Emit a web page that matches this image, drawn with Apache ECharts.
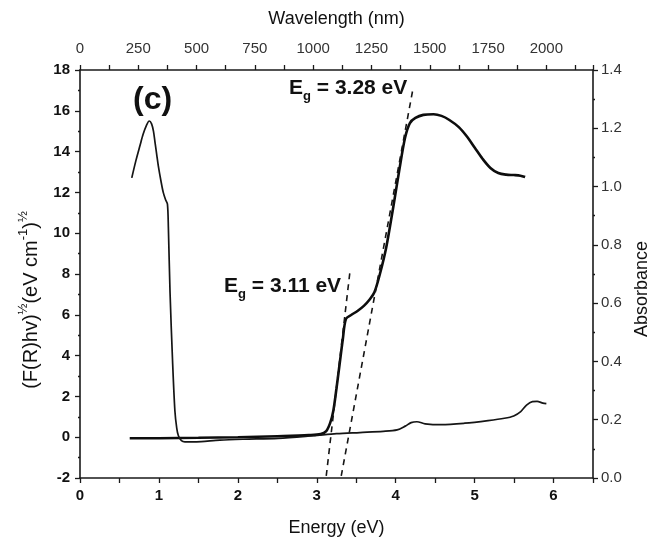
<!DOCTYPE html>
<html>
<head>
<meta charset="utf-8">
<script src="https://cdn.jsdelivr.net/npm/echarts@6/dist/echarts.min.js"></script>
<style>
  html, body { margin: 0; padding: 0; background: #fff; }
  #myChart { width: 659px; height: 548px; }
</style>
</head>
<body>
<div id="myChart"></div>
<script>
// Tauc 曲线: 能量 (eV) 与 (F(R)hv)^1/2
const taucEnergy = [0.63, 1.0, 1.5, 2.0, 2.5, 2.9, 3.05, 3.12, 3.17, 3.21, 3.25, 3.29, 3.33, 3.37,
  3.44, 3.52, 3.6, 3.67, 3.73, 3.8, 3.88, 3.97, 4.05, 4.12, 4.18, 4.25, 4.35, 4.48, 4.58,
  4.68, 4.8, 4.9, 5.0, 5.1, 5.2, 5.3, 5.4, 5.5, 5.58, 5.64];
const taucValue = [-0.05, -0.05, -0.03, 0.0, 0.05, 0.1, 0.15, 0.3, 0.7, 1.3, 2.4, 3.6, 4.8, 5.8,
  6.0, 6.2, 6.45, 6.75, 7.1, 8.0, 9.3, 11.3, 13.2, 14.7, 15.4, 15.65, 15.8, 15.83, 15.75,
  15.55, 15.2, 14.75, 14.2, 13.65, 13.2, 12.95, 12.87, 12.85, 12.82, 12.75];

// 吸收光谱: 波长 (nm) 与吸光度
const absWavelength = [222, 240, 257, 271, 285, 297, 307, 315, 322, 329, 336, 347, 357, 367, 375,
  379, 386, 397, 407, 415, 422, 435, 450, 480, 520, 600, 700, 850, 1000, 1100, 1200, 1300,
  1360, 1395, 1420, 1445, 1480, 1550, 1650, 1750, 1820, 1860, 1890, 1915, 1940, 1960, 1985, 2000];
const absValue = [1.03, 1.09, 1.14, 1.18, 1.21, 1.225, 1.215, 1.19, 1.15, 1.11, 1.07, 1.02, 0.98,
  0.955, 0.94, 0.86, 0.64, 0.4, 0.23, 0.17, 0.145, 0.128, 0.124, 0.124, 0.125, 0.13, 0.133,
  0.136, 0.145, 0.152, 0.156, 0.16, 0.165, 0.178, 0.19, 0.193, 0.186, 0.183, 0.188, 0.197,
  0.205, 0.213, 0.228, 0.25, 0.262, 0.263, 0.257, 0.255];

// 切线 (虚线), 两端点
const tangent311 = [[3.12, -1.9], [3.42, 8.1]];
const tangent328 = [[3.31, -1.9], [4.22, 17.1]];

const energyTicks = [0, 1, 2, 3, 4, 5, 6];
const wavelengthTicks = [0, 250, 500, 750, 1000, 1250, 1500, 1750, 2000];

const zip = (xs, ys) => xs.map((x, i) => [x, ys[i]]);

const font = 'Liberation Sans, Arial, sans-serif';
const axisColor = '#1a1a1a';
const labelFont = { color: '#111', fontSize: 15, fontFamily: font };
const nameFont = { color: '#111', fontSize: 18, fontFamily: font };

function baseAxis() {
  return {
    type: 'value',
    splitLine: { show: false },
    axisLine: { show: true, onZero: false, lineStyle: { color: axisColor, width: 1.6 } },
    axisTick: { show: true, inside: false, length: 5, lineStyle: { color: axisColor, width: 1.3 } },
    axisLabel: Object.assign({}, labelFont)
  };
}

let myChart = echarts.init(document.getElementById('myChart'), null, { renderer: 'canvas' });

myChart.setOption({
  animation: false,
  backgroundColor: '#fff',
  grid: { left: 80, right: 66, top: 70, bottom: 70 },
  xAxis: [
    Object.assign(baseAxis(), {
      position: 'bottom',
      min: 0, max: 6.5, interval: 0.5,
      name: 'Energy (eV)', nameLocation: 'middle', nameGap: 41, nameTextStyle: nameFont,
      axisLabel: Object.assign({}, labelFont, {
        margin: 10, fontWeight: 'bold',
        formatter: v => energyTicks.indexOf(v) >= 0 ? String(v) : ''
      })
    }),
    Object.assign(baseAxis(), {
      position: 'top',
      min: 0, max: 2200, interval: 125,
      name: 'Wavelength (nm)', nameLocation: 'middle', nameGap: 42, nameTextStyle: nameFont,
      axisLabel: Object.assign({}, labelFont, {
        margin: 14, color: '#333',
        formatter: v => wavelengthTicks.indexOf(v) >= 0 ? String(v) : ''
      })
    })
  ],
  yAxis: [
    Object.assign(baseAxis(), {
      position: 'left',
      min: -2, max: 18, interval: 2,
      minorTick: { show: true, splitNumber: 2, length: 2, lineStyle: { color: axisColor, width: 1.3 } },
      name: '{n|(F(R)hv)}{s|½}{n|(eV cm}{s|-1}{n|)}{s|½}',
      nameLocation: 'middle', nameGap: 35,
      nameTextStyle: {
        padding: [0, 52, 0, 0],
        rich: {
          n: Object.assign({}, nameFont, { fontSize: 20, lineHeight: 28 }),
          s: Object.assign({}, nameFont, { fontSize: 13, lineHeight: 15, verticalAlign: 'top' })
        }
      },
      axisLabel: Object.assign({}, labelFont, { margin: 10, fontWeight: 'bold' })
    }),
    Object.assign(baseAxis(), {
      position: 'right',
      min: 0, max: 1.4, interval: 0.2,
      minorTick: { show: true, splitNumber: 2, length: 2, lineStyle: { color: axisColor, width: 1.3 } },
      name: 'Absorbance', nameLocation: 'middle', nameGap: 38,
      nameTextStyle: Object.assign({}, nameFont, { padding: [0, 30, 0, 0] }),
      axisLabel: Object.assign({}, labelFont, { margin: 8, color: '#333', formatter: v => v.toFixed(1) })
    })
  ],
  series: [
    {
      name: 'Tauc',
      type: 'line',
      xAxisIndex: 0, yAxisIndex: 0,
      smooth: 0.3,
      showSymbol: false,
      lineStyle: { color: '#0d0d0d', width: 2.6 },
      data: zip(taucEnergy, taucValue)
    },
    {
      name: 'Absorbance',
      type: 'line',
      xAxisIndex: 1, yAxisIndex: 1,
      smooth: 0.3,
      showSymbol: false,
      lineStyle: { color: '#151515', width: 1.7 },
      data: zip(absWavelength, absValue)
    },
    {
      name: 'Eg 3.11',
      type: 'line',
      xAxisIndex: 0, yAxisIndex: 0,
      showSymbol: false,
      lineStyle: { color: '#151515', width: 1.6, type: [6, 5] },
      data: tangent311
    },
    {
      name: 'Eg 3.28',
      type: 'line',
      xAxisIndex: 0, yAxisIndex: 0,
      showSymbol: false,
      lineStyle: { color: '#151515', width: 1.6, type: [6, 5] },
      data: tangent328
    }
  ],
  graphic: [
    {
      type: 'text', left: 133, top: 84,
      style: { text: '(c)', fontSize: 32, fontWeight: 'bold', fontFamily: font, fill: '#111' }
    },
    {
      type: 'text', left: 289, top: 78,
      style: {
        text: '{n|E}{s|g}{n| = 3.28 eV}',
        rich: {
          n: { fontSize: 21, lineHeight: 28, fontWeight: 'bold', fontFamily: font, fill: '#111' },
          s: { fontSize: 13, lineHeight: 13, verticalAlign: 'bottom', fontWeight: 'bold', fontFamily: font, fill: '#111' }
        }
      }
    },
    {
      type: 'text', left: 224, top: 276,
      style: {
        text: '{n|E}{s|g}{n| = 3.11 eV}',
        rich: {
          n: { fontSize: 21, lineHeight: 28, fontWeight: 'bold', fontFamily: font, fill: '#111' },
          s: { fontSize: 13, lineHeight: 13, verticalAlign: 'bottom', fontWeight: 'bold', fontFamily: font, fill: '#111' }
        }
      }
    }
  ]
});
</script>
</body>
</html>
